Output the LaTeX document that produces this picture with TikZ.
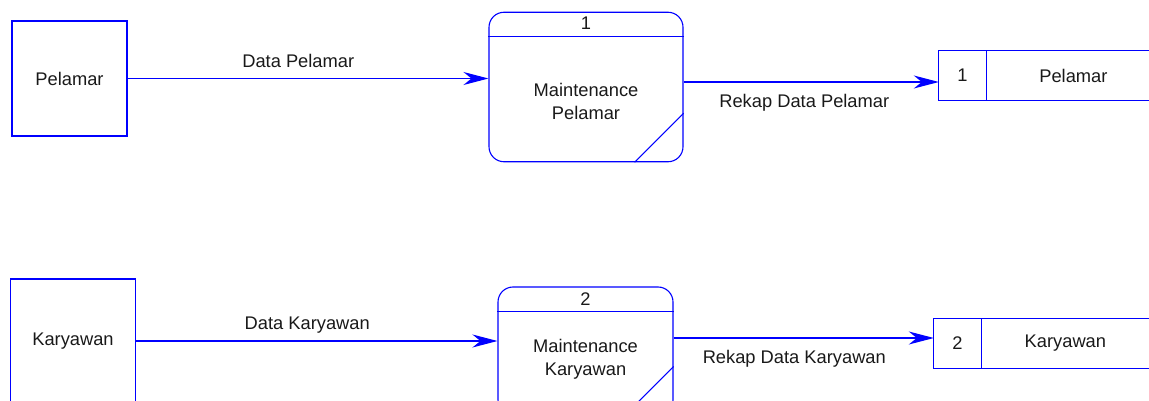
\documentclass[tikz,border=0pt]{standalone}
\usepackage{fontspec}
\setmainfont{Liberation Sans}
\usetikzlibrary{arrows.meta,calc,positioning}

\begin{document}
\begin{tikzpicture}[x=1pt, y=-1pt,
		every node/.style={font=\fontsize{18.3}{23}\selectfont, text=black!90},
		entity/.style={draw=blue, line width=1.1pt, inner sep=0pt},
		process/.style={draw=blue, line width=1.1pt, rounded corners=15pt, inner sep=0pt},
		storeid/.style={inner sep=0pt, minimum width=47pt, minimum height=49pt},
		storename/.style={inner sep=0pt, minimum height=49pt},
		border/.style={blue, line width=1.1pt},
		flow/.style={blue, line width=1.1pt, -{Stealth[length=25pt, width=13pt, inset=8pt]}},
		upperlabel/.style={anchor=base, yshift=11.4pt, inner sep=0pt},
		lowerlabel/.style={anchor=base, yshift=-25.6pt, inner sep=0pt}]
		\useasboundingbox (0,0) rectangle (1149,401);
		\clip (0,0) rectangle (1149,401);
		\node[entity, minimum width=115pt, minimum height=115pt] (pel) at (69.5,78.5) {Pelamar};
		\node[entity, minimum width=124.5pt, minimum height=124pt] (kar) at (73,341) {Karyawan};
		\node[process, minimum width=194pt, minimum height=149.5pt] (p1) at (586,87) {};
		\node[process, minimum width=175pt, minimum height=128pt] (p2) at (585.5,351) {};
		\draw[border] ($(p1.north west)+(0,24.5)$) -- ($(p1.north east)+(0,24.5)$);
		\draw[border] ($(p2.north west)+(0,25)$) -- ($(p2.north east)+(0,25)$);
		\draw[border] ($(p1.south east)+(-49,0)$) -- ($(p1.south east)+(0,-49)$);
		\draw[border] ($(p2.south east)+(-49,0)$) -- ($(p2.south east)+(0,-49)$);
		\node (p1id) at ($(p1.north)+(0,12)$) {1};
		\node (p2id) at ($(p2.north)+(0,12.5)$) {2};
		\node[align=center] (p1name) at ($(p1.north)!0.595!(p1.south)$) {Maintenance\\Pelamar};
		\node[align=center] (p2name) at ($(p2.north)!0.566!(p2.south)$) {Maintenance\\Karyawan};
		\node[storeid] (s1id) at (962.5,75.5) {1};
		\node[storename, minimum width=174pt, right=0pt of s1id] (s1) {Pelamar};
		\node[storeid] (s2id) at (957.5,343.5) {2};
		\node[storename, minimum width=168pt, right=0pt of s2id] (s2) {Karyawan};
		\draw[border] (s1.north east) -- (s1id.north west) -- (s1id.south west) -- (s1.south east);
		\draw[border] (s1id.north east) -- (s1id.south east);
		\draw[border] (s2.north east) -- (s2id.north west) -- (s2id.south west) -- (s2.south east);
		\draw[border] (s2id.north east) -- (s2id.south east);
		\coordinate (r1) at ([yshift=5pt]p1.east);
		\coordinate (r2) at ([yshift=13pt]p2.east);
		\draw[flow] (pel.east) -- (pel.east -| p1.west) node[upperlabel, pos=0.473] {Data Pelamar};
		\draw[flow] (r1) -- (r1 -| s1id.west) node[lowerlabel, pos=0.473] {Rekap Data Pelamar};
		\draw[flow] (kar.east) -- (kar.east -| p2.west) node[upperlabel, pos=0.474] {Data Karyawan};
		\draw[flow] (r2) -- (r2 -| s2id.west) node[lowerlabel, pos=0.464] {Rekap Data Karyawan};
	\end{tikzpicture}
\end{document}
